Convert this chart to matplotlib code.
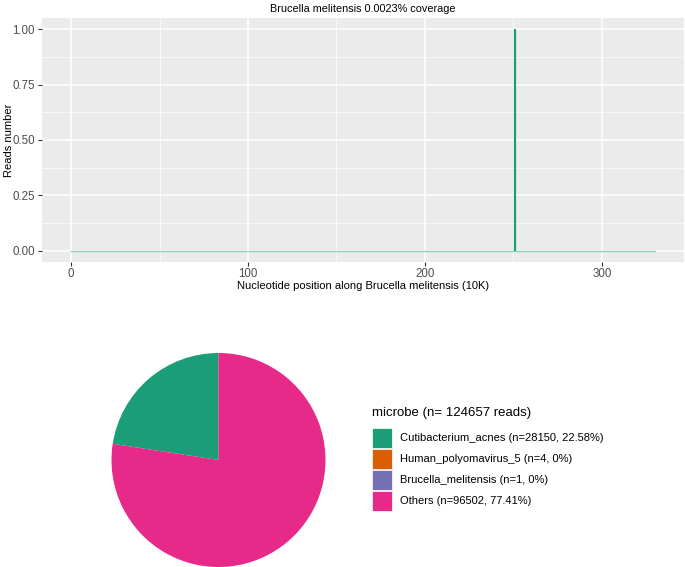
import matplotlib
matplotlib.use("Agg")
import matplotlib.pyplot as plt
from matplotlib.patches import Rectangle

plt.rcParams['font.family'] = ['Liberation Sans', 'DejaVu Sans']

# coverage track (positions in 10K units)
genome_start = 0
genome_end = 330
hit_positions = [251]
hit_reads = [1]

# microbe composition
microbes = ["Cutibacterium_acnes", "Human_polyomavirus_5", "Brucella_melitensis", "Others"]
counts = [28150, 4, 1, 96502]
colors = ["#1B9E77", "#D95F02", "#7570B3", "#E7298A"]
total = sum(counts)

W, H = 685, 567
fig = plt.figure(figsize=(W / 100, H / 100), dpi=100)

# ---------- top: coverage plot ----------
ax = fig.add_axes([42 / W, 1 - 262 / H, (684 - 42) / W, (262 - 18) / H])
ax.set_facecolor("#EBEBEB")
span = genome_end - genome_start
ax.set_xlim(genome_start - 0.05 * span, genome_end + 0.05 * span)
ax.set_ylim(-0.05, 1.05)
ax.set_xticks([0, 100, 200, 300])
ax.set_xticks([50, 150, 250], minor=True)
ax.set_yticks([0, 0.25, 0.5, 0.75, 1.0])
ax.set_yticks([0.125, 0.375, 0.625, 0.875], minor=True)
ax.set_yticklabels(["0.00", "0.25", "0.50", "0.75", "1.00"])
ax.grid(True, which="major", color="white", lw=1.1)
ax.grid(True, which="minor", color="white", lw=0.5)
ax.set_axisbelow(True)
for s in ax.spines.values():
    s.set_visible(False)
ax.tick_params(which="major", length=3, color="#333333", labelsize=8.3,
               labelcolor="#4D4D4D", pad=2)
ax.tick_params(axis="x", pad=1)
ax.tick_params(which="minor", length=0)

ax.plot([genome_start, genome_end], [0, 0], color="#8FD3BD", lw=1.0, zorder=2)
ax.vlines(hit_positions, 0, hit_reads, color="#1B9E77", lw=1.6, zorder=3)

ax.set_xlabel("Nucleotide position along Brucella melitensis (10K)", fontsize=8, labelpad=1)
ax.set_ylabel("Reads number", fontsize=8)
ax.yaxis.set_label_coords(-28 / (684 - 42), 0.5)
ax.set_title("Brucella melitensis 0.0023% coverage", fontsize=7.8, pad=4)

# ---------- bottom: pie ----------
cx, cy, r = 218.5, 460, 107
pax = fig.add_axes([(cx - r) / W, 1 - (cy + r) / H, 2 * r / W, 2 * r / H])
pax.pie(counts, colors=colors, startangle=90, counterclock=True, radius=1,
        wedgeprops=dict(linewidth=0))
pax.set_xlim(-1, 1)
pax.set_ylim(-1, 1)
pax.set_aspect("equal")
pax.axis("off")

# ---------- legend ----------
fig.text(372 / W, 1 - 413 / H, f"microbe (n= {total} reads)", fontsize=9.5,
         va="center", ha="left")
key = 20
for i, (name, n, c) in enumerate(zip(microbes, counts, colors)):
    pct = round(100 * n / total, 2)
    y0 = 428 + i * 21
    fig.patches.append(Rectangle((372 / W, 1 - (y0 + key) / H), key / W, key / H,
                                 transform=fig.transFigure, facecolor=c,
                                 edgecolor="white", lw=0.5))
    fig.text(400 / W, 1 - (y0 + key / 2) / H, f"{name} (n={n}, {pct:g}%)",
             fontsize=8, va="center", ha="left")

fig.savefig("out.png", dpi=100)
